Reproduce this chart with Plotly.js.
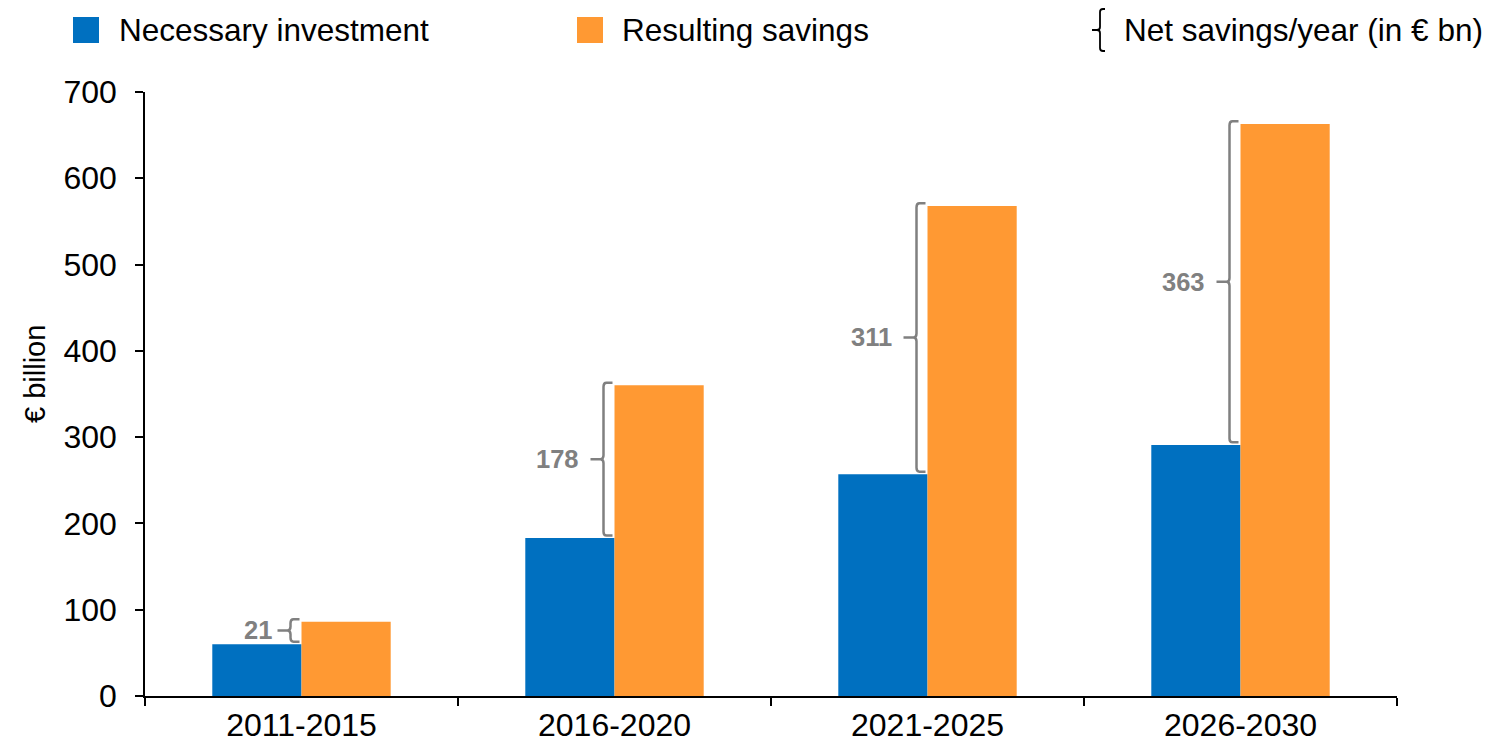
<!DOCTYPE html>
<html>
<head>
<meta charset="utf-8">
<script src="https://cdn.plot.ly/plotly-3.0.1.min.js"></script>
<style>html,body{margin:0;padding:0;background:#fff;}#chart{width:1497px;height:748px;}</style>
</head>
<body>
<div id="chart"></div>
<script>
const categories = ['2011-2015', '2016-2020', '2021-2025', '2026-2030'];
const investment = [60, 183, 257, 291];
const savings = [86, 360, 568, 663];
const netLabels = ['21', '178', '311', '363'];
const seriesNames = ['Necessary investment', 'Resulting savings'];
const bracketLegendText = 'Net savings/year (in € bn)';
const yTickValues = [0, 100, 200, 300, 400, 500, 600, 700];
const yTitle = '€ billion';

const BLUE = '#0070C0';
const ORANGE = '#FF9933';
const GREY = '#808080';
const FONT = 'Liberation Sans, Arial, sans-serif';

const traces = [
  {type: 'bar', name: seriesNames[0], x: categories, y: investment,
   marker: {color: BLUE}, hoverinfo: 'x+y'},
  {type: 'bar', name: seriesNames[1], x: categories, y: savings,
   marker: {color: ORANGE}, hoverinfo: 'x+y'}
];

// bracket geometry (x in pixels relative to category centre, y in data units)
const r = 4.5;
function bracketPath(bot, top) {
  const mid = (bot + top) / 2;
  return 'M-2,' + top + ' L-8,' + top + ' Q-11,' + top + ' -11,' + (top - r) +
    ' L-11,' + (mid + r) + ' Q-11,' + mid + ' -14,' + mid + ' L-24,' + mid +
    ' M-14,' + mid + ' Q-11,' + mid + ' -11,' + (mid - r) +
    ' L-11,' + (bot + r) + ' Q-11,' + bot + ' -8,' + bot + ' L-2,' + bot;
}

const shapes = categories.map((c, i) => ({
  type: 'path', xref: 'x', yref: 'y', xsizemode: 'pixel', xanchor: i,
  path: bracketPath(investment[i] + 3, savings[i] + 3),
  line: {color: GREY, width: 2.5}
}));

// manual legend
function px2paperX(p) { return (p - 145) / 1252; }
function px2paperY(p) { return (696 - p) / 604; }
shapes.push({type: 'rect', xref: 'paper', yref: 'paper',
  x0: px2paperX(73), x1: px2paperX(99), y0: px2paperY(43), y1: px2paperY(17),
  fillcolor: BLUE, line: {width: 0}});
shapes.push({type: 'rect', xref: 'paper', yref: 'paper',
  x0: px2paperX(577), x1: px2paperX(603), y0: px2paperY(43), y1: px2paperY(17),
  fillcolor: ORANGE, line: {width: 0}});
shapes.push({type: 'path', xref: 'paper', yref: 'paper',
  xsizemode: 'pixel', ysizemode: 'pixel', xanchor: px2paperX(1100), yanchor: px2paperY(30),
  path: 'M5,21 L3,21 Q0,21 0,18 L0,3 Q0,0 -3,0 L-8,0 M-3,0 Q0,0 0,-3 L0,-18 Q0,-21 3,-21 L5,-21',
  line: {color: '#000000', width: 1.8}});

const annotations = categories.map((c, i) => ({
  x: c, y: (investment[i] + 3 + savings[i] + 3) / 2, xref: 'x', yref: 'y',
  text: '<b>' + netLabels[i] + '</b>', showarrow: false, xanchor: 'right', yanchor: 'middle',
  xshift: i === 0 ? -28 : -34, font: {family: FONT, size: 25.5, color: GREY}
}));
const LEG = 31.5;
annotations.push({x: px2paperX(117), y: px2paperY(30), xref: 'paper', yref: 'paper',
  text: seriesNames[0], showarrow: false, xanchor: 'left', yanchor: 'middle',
  font: {family: FONT, size: LEG, color: '#000'}});
annotations.push({x: px2paperX(620), y: px2paperY(30), xref: 'paper', yref: 'paper',
  text: seriesNames[1], showarrow: false, xanchor: 'left', yanchor: 'middle',
  font: {family: FONT, size: LEG, color: '#000'}});
annotations.push({x: px2paperX(1122), y: px2paperY(30), xref: 'paper', yref: 'paper',
  text: bracketLegendText, showarrow: false, xanchor: 'left', yanchor: 'middle',
  font: {family: FONT, size: LEG, color: '#000'}});
annotations.push({x: px2paperX(35), y: px2paperY(374), xref: 'paper', yref: 'paper',
  text: yTitle, showarrow: false, textangle: -90, xanchor: 'center', yanchor: 'middle',
  font: {family: FONT, size: 29, color: '#000'}});

const layout = {
  width: 1497, height: 748,
  margin: {l: 145, r: 100, t: 92, b: 52, pad: 0},
  paper_bgcolor: '#ffffff', plot_bgcolor: '#ffffff',
  font: {family: FONT, size: 32, color: '#000'},
  showlegend: false,
  barmode: 'group', bargap: 0.43, bargroupgap: 0,
  xaxis: {type: 'category', range: [-0.5, 3.5], showline: true, linecolor: '#000', linewidth: 1.5,
    ticks: 'outside', tickson: 'boundaries', ticklen: 8, tickwidth: 1.5, tickcolor: '#000',
    showgrid: false, zeroline: false, tickfont: {family: FONT, size: 32, color: '#000'}},
  yaxis: {range: [0, 700], tickvals: yTickValues, showline: true, linecolor: '#000', linewidth: 1.5,
    ticks: 'outside', ticklen: 8, tickwidth: 1.5, tickcolor: '#000', showgrid: false, zeroline: false,
    ticklabelstandoff: 12, tickfont: {family: FONT, size: 32, color: '#000'}},
  shapes: shapes,
  annotations: annotations
};

Plotly.newPlot('chart', traces, layout, {displayModeBar: false, staticPlot: false});
</script>
</body>
</html>
